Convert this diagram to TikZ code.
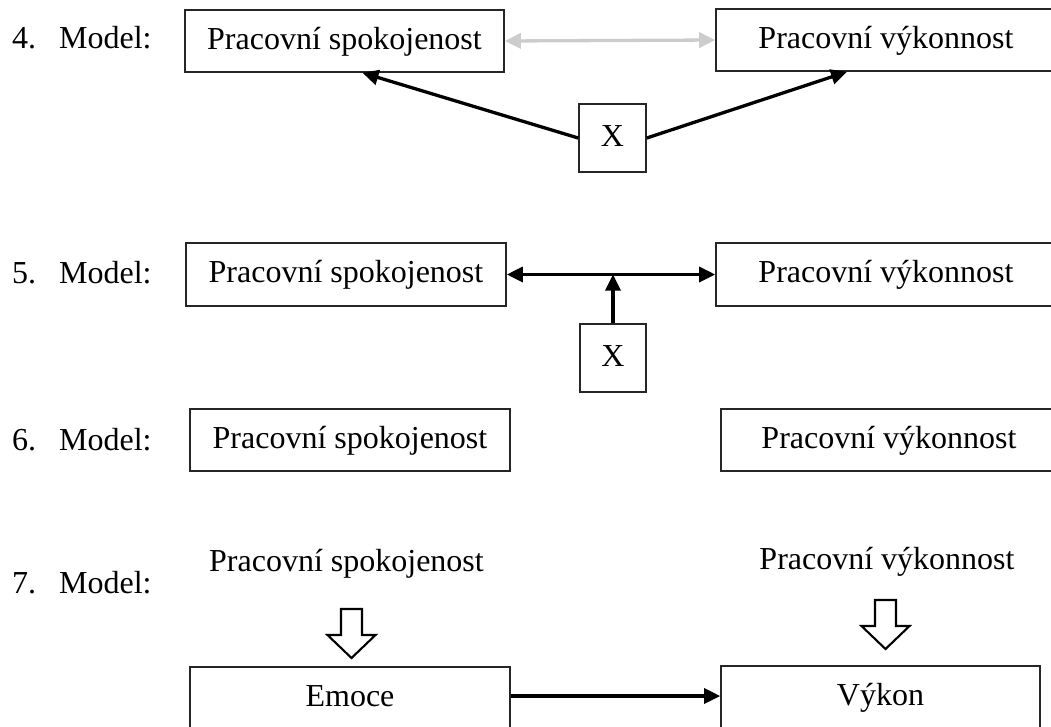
\documentclass[tikz,border=0pt]{standalone}
\usepackage{fontspec}
\setmainfont{Liberation Serif}
\usetikzlibrary{arrows.meta,calc}
\tikzset{
  box/.style={draw=black!85, line width=1.6pt, inner sep=0pt, text height=22pt, text depth=6pt},
  lbl/.style={anchor=base west, inner sep=0pt},
  plain/.style={inner sep=0pt, anchor=base},
  conn/.style={line width=3.3pt, -{Triangle[length=16pt,width=15pt]}},
  conntwo/.style={line width=3.3pt, {Triangle[length=16pt,width=15pt]}-{Triangle[length=16pt,width=15pt]}},
  grayconn/.style={line width=3.3pt, draw=black!20, {Triangle[length=16pt,width=15pt]}-{Triangle[length=16pt,width=15pt]}},
  hollowdown/.pic={
    \draw[line width=2.1pt, fill=white, line join=miter]
      (-10.5,0) -- (10.5,0) -- (10.5,26) -- (24,26) -- (0,49) -- (-24,26) -- (-10.5,26) -- cycle;
  }
}
\begin{document}
\begin{tikzpicture}[x=1pt,y=-1pt,font=\fontsize{32}{38}\selectfont]
\useasboundingbox[fill=white] (0,0) rectangle (1051,726);

% ---- Model 4
\node[lbl] (L4) at (12,48) {4.\hspace{23pt}Model:};
\node[box, minimum width=319pt, minimum height=62pt] (A4) at (344.5,41) {Pracovní spokojenost};
\node[box, minimum width=340pt, minimum height=62pt] (B4) at (886,40) {Pracovní výkonnost};
\node[box, minimum width=67pt, minimum height=68pt] (X4) at (612.5,138) {X};
\draw[grayconn] (A4.east) -- (B4.west);
\draw[conn] (X4.west) -- ([xshift=18pt]A4.south);
\draw[conn] (X4.east) -- ([xshift=-39pt]B4.south);

% ---- Model 5
\node[lbl] (L5) at (12,283) {5.\hspace{23pt}Model:};
\node[box, minimum width=320pt, minimum height=63pt] (A5) at (346,274.5) {Pracovní spokojenost};
\node[box, minimum width=340pt, minimum height=63pt] (B5) at (886,274.5) {Pracovní výkonnost};
\node[box, minimum width=66pt, minimum height=68pt] (X5) at (613,358) {X};
\draw[conntwo] (A5.east) -- (B5.west);
\coordinate (J5) at (X5.north |- A5.east);
\draw[conn] (X5.north) -- (J5);

% ---- Model 6
\node[lbl] (L6) at (12,450) {6.\hspace{23pt}Model:};
\node[box, minimum width=320pt, minimum height=62pt] (A6) at (350,440) {Pracovní spokojenost};
\node[box, minimum width=336pt, minimum height=62pt] (B6) at (889,440) {Pracovní výkonnost};

% ---- Model 7
\node[lbl] (L7) at (12,593) {7.\hspace{23pt}Model:};
\node[plain] (T1) at (346.5,571) {Pracovní spokojenost};
\node[plain] (T2) at (887,569) {Pracovní výkonnost};
\pic at (351.5,609) {hollowdown};
\pic at (885.5,600) {hollowdown};
\node[box, minimum width=320pt, minimum height=62pt] (E7) at (350,698) {Emoce};
\node[box, minimum width=319pt, minimum height=62pt] (V7) at (880.5,697) {Výkon};
\draw[conn] ([yshift=2pt]E7.east) -- ([yshift=2pt]E7.east -| V7.west);
\end{tikzpicture}
\end{document}
